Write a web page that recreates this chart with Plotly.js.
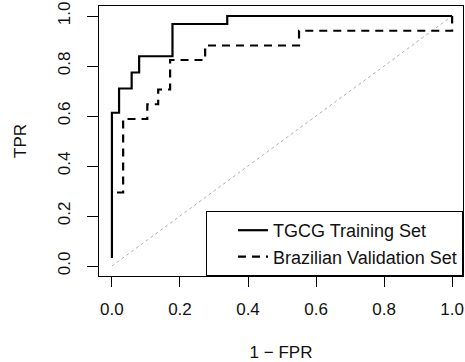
<!DOCTYPE html>
<html>
<head>
<meta charset="utf-8">
<script src="https://cdn.plot.ly/plotly-3.0.1.min.js"></script>
<style>html,body{margin:0;padding:0;background:#fff;}#chart{width:465px;height:362px;}</style>
</head>
<body>
<div id="chart"></div>
<script>
// TGCG Training Set ROC steps
var tgcgX = [0, 0, 0.021, 0.058, 0.080, 0.178, 0.339, 1.0];
var tgcgY = [0.032, 0.613, 0.710, 0.774, 0.839, 0.968, 1.0, 1.0];
// Brazilian Validation Set ROC steps
var brX = [0.015, 0.033, 0.104, 0.136, 0.171, 0.274, 0.550, 1.0];
var brY = [0.294, 0.588, 0.647, 0.706, 0.824, 0.882, 0.941, 1.0];
// reference diagonal
var diagX = [0, 1];
var diagY = [0, 1];
var tickVals = [0, 0.2, 0.4, 0.6, 0.8, 1.0];
var tickText = ["0.0", "0.2", "0.4", "0.6", "0.8", "1.0"];
var seriesNames = ["TGCG Training Set", "Brazilian Validation Set"];

var traces = [
  {x: diagX, y: diagY, mode: 'lines', line: {color: '#b0b0b0', width: 1, dash: 'dot'}, showlegend: false, hoverinfo: 'skip'},
  {x: tgcgX, y: tgcgY, mode: 'lines', name: seriesNames[0], line: {color: '#000', width: 2.2, shape: 'hv'}},
  {x: brX, y: brY, mode: 'lines', name: seriesNames[1], line: {color: '#000', width: 2.2, shape: 'hv', dash: '8px,6px'}}
];

var font = {family: 'Liberation Sans, Arial, sans-serif', size: 17, color: '#111'};
var legFont = {family: 'Liberation Sans, Arial, sans-serif', size: 18, color: '#111'};

var layout = {
  width: 465, height: 362,
  margin: {l: 99, r: 2, t: 6, b: 86},
  paper_bgcolor: '#fff', plot_bgcolor: '#fff',
  font: font,
  showlegend: true,
  legend: {
    x: 1, xanchor: 'right', y: 0, yanchor: 'bottom',
    bordercolor: '#000', borderwidth: 1, bgcolor: '#fff',
    font: legFont, indentation: 26, tracegroupgap: 0
  },
  xaxis: {
    range: [-0.038, 1.032], tickvals: tickVals, ticktext: tickText,
    showgrid: false, zeroline: false, showline: true, mirror: true,
    linecolor: '#000', linewidth: 1, ticks: 'outside', ticklen: 10,
    tickcolor: '#000', tickwidth: 1, ticklabelstandoff: 8,
    title: {text: '1 \u2212 FPR', font: font, standoff: 50}
  },
  yaxis: {
    range: [-0.04, 1.04], tickvals: tickVals, ticktext: tickText,
    showgrid: false, zeroline: false, showline: true, mirror: true,
    linecolor: '#000', linewidth: 1, ticks: 'outside', ticklen: 11,
    tickcolor: '#000', tickwidth: 1, tickangle: -90, ticklabelstandoff: 10,
    title: {text: 'TPR', font: font, standoff: 24}
  }
};

Plotly.newPlot('chart', traces, layout, {displayModeBar: false, staticPlot: true});
</script>
</body>
</html>
